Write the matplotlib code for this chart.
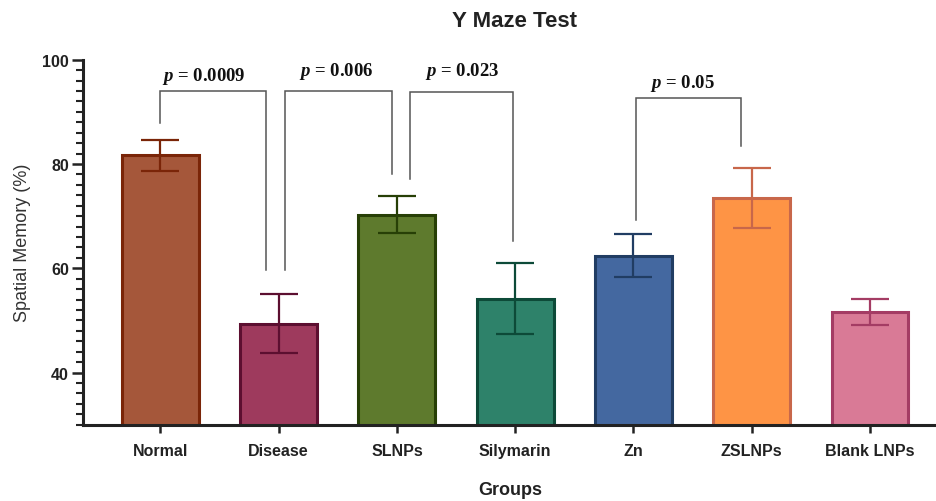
import matplotlib.pyplot as plt
from matplotlib.ticker import MultipleLocator

# data
groups = ["Normal", "Disease", "SLNPs", "Silymarin", "Zn", "ZSLNPs", "Blank LNPs"]
means = [81.7, 49.4, 70.3, 54.2, 62.4, 73.5, 51.6]
errors = [3.0, 5.7, 3.6, 6.8, 4.1, 5.7, 2.5]
fills = ["#a5573a", "#9e3a5d", "#5e7a2d", "#2e826a", "#4468a0", "#fe9445", "#d97a96"]
edges = ["#7a2508", "#5c0f30", "#273f06", "#0d4a38", "#213d63", "#c8674a", "#a43c64"]

# significance brackets: (x_left, x_right, top, left leg end, right leg end, p value, label x, label y)
brackets = [
    (0.0, 0.89, 94.0, 87.9, 59.6, "0.0009", 0.37, 96.2),
    (1.05, 1.96, 94.0, 59.6, 78.0, "0.006", 1.49, 97.0),
    (2.11, 2.98, 93.8, 77.2, 65.3, "0.023", 2.55, 97.0),
    (4.02, 4.91, 92.7, 69.3, 83.5, "0.05", 4.41, 94.7),
]

plt.rcParams['font.family'] = ['Liberation Sans', 'DejaVu Sans']
plt.rcParams['mathtext.fontset'] = 'custom'
plt.rcParams['mathtext.it'] = 'Liberation Serif:italic:bold'
plt.rcParams['mathtext.rm'] = 'Liberation Serif:bold'

fig = plt.figure(figsize=(9.37, 5.02), dpi=100)
ax = fig.add_axes([0.0883, 0.152, 1.0 - 0.0883, 0.879 - 0.152])

x = range(len(groups))
ax.bar(x, means, width=0.65, color=fills, edgecolor=edges, linewidth=2.2, zorder=2)
for i in x:
    ax.errorbar(i, means[i], yerr=errors[i], color=edges[i], elinewidth=1.6,
                capsize=14, capthick=1.6, zorder=3)

for xl, xr, top, yl, yr, pval, tx, ty in brackets:
    ax.plot([xl, xl, xr, xr], [yl, top, top, yr], color="#555555", lw=1.1,
            solid_joinstyle="miter", clip_on=False, zorder=1)
    ax.text(tx, ty, "$p$ = " + pval, ha="center", va="baseline", fontsize=13.5,
            family="Liberation Serif", weight="bold", color="#111111")

ax.set_xlim(-0.656, 6.566)
ax.set_ylim(30, 100)
ax.yaxis.set_major_locator(MultipleLocator(20))
ax.yaxis.set_minor_locator(MultipleLocator(2))
ax.set_xticks(list(x))
ax.set_xticklabels(groups, fontsize=11.5, fontweight="bold", color="#222222")
for lab in ax.get_yticklabels():
    lab.set_fontsize(11.5)
    lab.set_fontweight("bold")
    lab.set_color("#222222")

for s in ["top", "right"]:
    ax.spines[s].set_visible(False)
for s in ["left", "bottom"]:
    ax.spines[s].set_linewidth(2.2)
    ax.spines[s].set_color("#222222")

ax.tick_params(axis="y", which="major", length=8, width=1.8, color="#222222", pad=2)
ax.tick_params(axis="y", which="minor", length=5, width=1.5, color="#222222")
ax.tick_params(axis="x", which="major", length=6, width=1.8, color="#222222", pad=7)

ax.set_ylabel("Spatial Memory (%)", fontsize=13, color="#333333", labelpad=8)
ax.set_xlabel("Groups", fontsize=13, fontweight="bold", color="#222222", labelpad=17)
fig.text(0.549, 0.958, "Y Maze Test", ha="center", va="center", fontsize=16,
         fontweight="bold", color="#222222")

fig.savefig("out.png", dpi=100)
